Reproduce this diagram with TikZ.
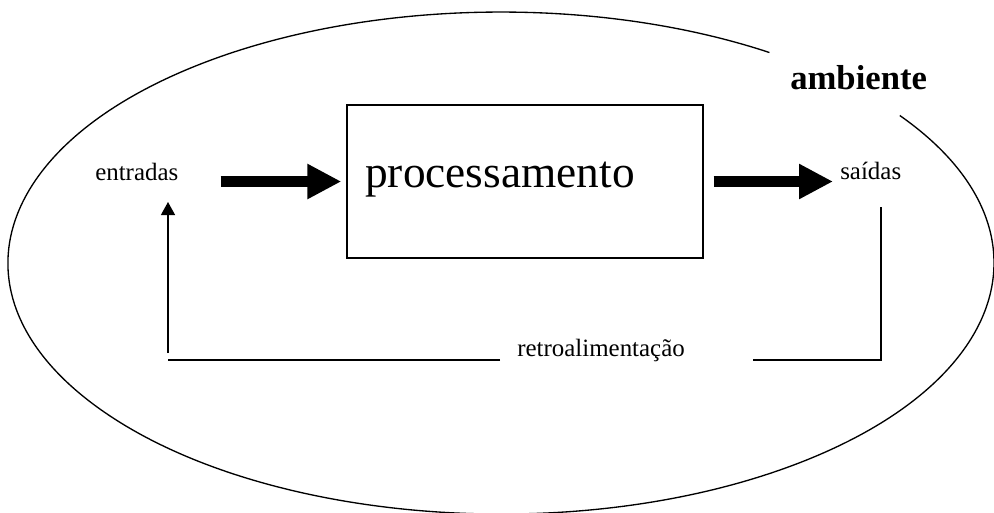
\documentclass[tikz,border=0pt]{standalone}
\usepackage{fontspec}
\setmainfont{Liberation Serif}
\usetikzlibrary{arrows.meta}
\begin{document}
\begin{tikzpicture}[x=0.75pt,y=-0.75pt,
  lbl/.style={inner sep=0pt, font=\fontsize{18.7pt}{20pt}\selectfont},
  bigarrow/.style={line width=8.25pt, -{Triangle[length=25.5pt,width=24.75pt]}},
  thin/.style={line width=1pt},
  smallarrow/.style={line width=1pt, -{Triangle[length=9.75pt,width=10.5pt]}}]
\useasboundingbox (0,0) rectangle (994,512);
\clip (0,0) rectangle (994,512);
% environment ellipse (broken for the label)
\draw[thin] (899.8,115.5) arc[start angle=-36, end angle=303, x radius=493, y radius=251];
\node[inner sep=0pt, anchor=base west, font=\bfseries\fontsize{26pt}{29pt}\selectfont] (amb) at (790,89) {ambiente};
% process box
\node[draw, thin, minimum width=267pt, minimum height=114.75pt, inner sep=0pt] (proc) at (525,181.5) {};
\node[inner sep=0pt, anchor=base west, font=\fontsize{34pt}{38pt}\selectfont] (proctxt) at (365,187) {processamento};
% inputs / outputs
\node[lbl, anchor=base west] (ent) at (95,180) {entradas};
\node[lbl, anchor=base west] (sai) at (840,179) {saídas};
\draw[bigarrow, shorten <=31.5pt, shorten >=3.75pt] (ent.east |- proc.west) -- (proc.west);
\draw[bigarrow, shorten <=7.5pt, shorten >=5.25pt] (proc.east) -- (proc.east -| sai.west);
% feedback
\node[lbl, anchor=base west] (retro) at (517,356) {retroalimentação};
\coordinate (fbtop) at (881,207);
\coordinate (fbcorner) at (881,360);
\coordinate (fbmidR) at (753,360);
\coordinate (fbmidL) at (500,360);
\coordinate (fbleft) at (168,360);
\coordinate (fbvbot) at (168,353);
\coordinate (fbtip) at (168,202);
\draw[thin] (fbtop) -- (fbcorner) -- (fbmidR);
\draw[thin] (fbmidL) -- (fbleft);
\draw[smallarrow] (fbvbot) -- (fbtip);
\end{tikzpicture}
\end{document}
